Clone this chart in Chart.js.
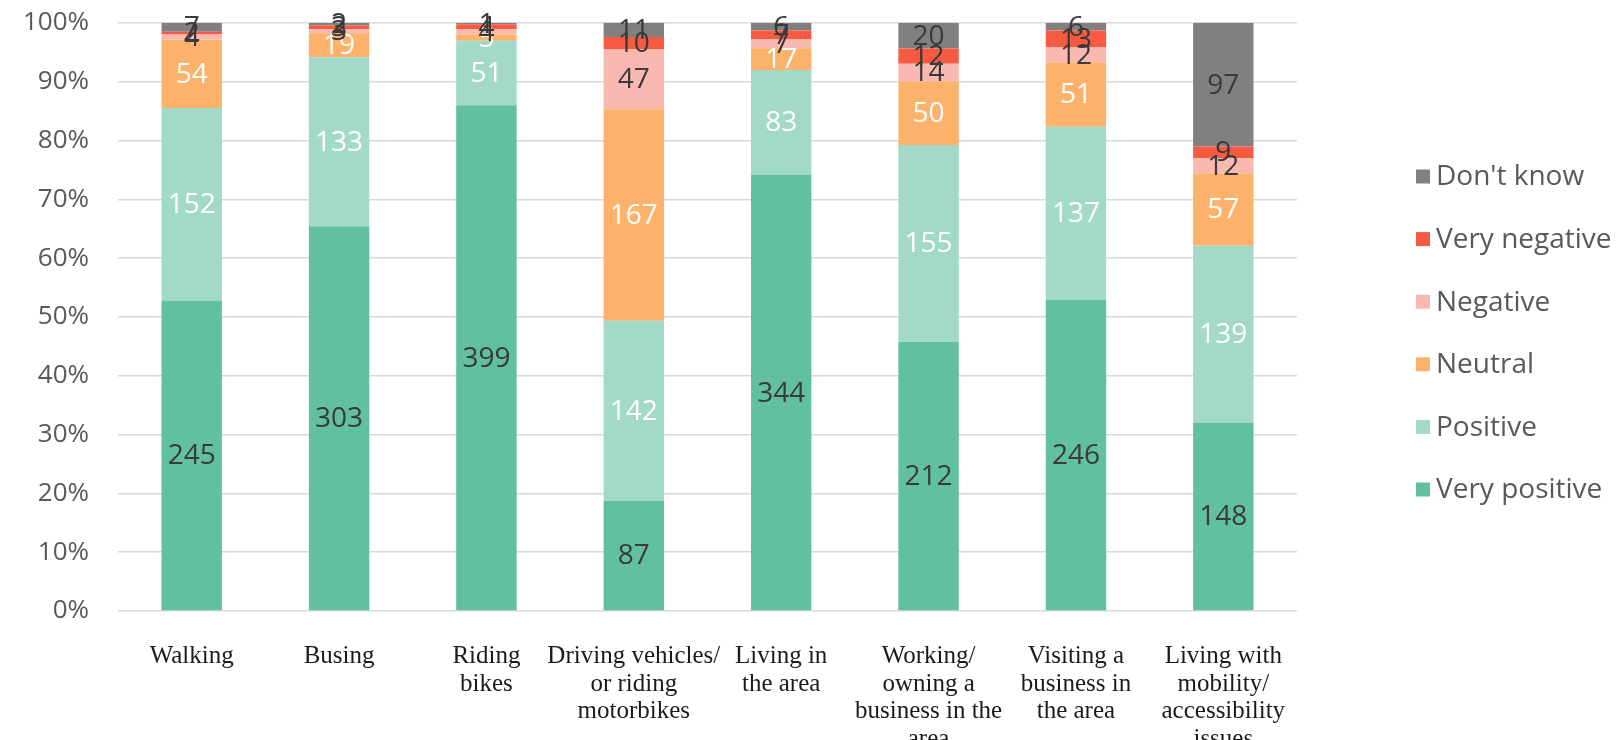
<!DOCTYPE html>
<html>
<head>
<meta charset="utf-8">
<script src="https://cdn.jsdelivr.net/npm/chart.js@4.4.0/dist/chart.umd.min.js"></script>
<style>
  html, body { margin: 0; padding: 0; background: #ffffff; }
</style>
</head>
<body>
<canvas id="attitudes" width="1621" height="740"></canvas>
<script>
// survey responses per group (counts); bars are stacked as share of each group's total
const categories = [
  ['Walking'],
  ['Busing'],
  ['Riding', 'bikes'],
  ['Driving vehicles/', 'or riding', 'motorbikes'],
  ['Living in', 'the area'],
  ['Working/', 'owning a', 'business in the', 'area'],
  ['Visiting a', 'business in', 'the area'],
  ['Living with', 'mobility/', 'accessibility', 'issues']
];

const veryPositive = [245, 303, 399, 87, 344, 212, 246, 148];
const positive     = [152, 133, 51, 142, 83, 155, 137, 139];
const neutral      = [54, 19, 5, 167, 17, 50, 51, 57];
const negative     = [4, 3, 4, 47, 7, 14, 12, 12];
const veryNegative = [2, 3, 4, 10, 7, 12, 13, 9];
const dontKnow     = [7, 2, 1, 11, 6, 20, 6, 97];

const seriesNames = ['Very positive', 'Positive', 'Neutral', 'Negative', 'Very negative', "Don't know"];
const yTickStep = 10;

const series = [veryPositive, positive, neutral, negative, veryNegative, dontKnow];
const colors = ['#62c0a2', '#a3d9c8', '#fdb26c', '#fab9b0', '#f65a40', '#808080'];
const labelColors = ['#3a3a3a', '#ffffff', '#ffffff', '#3a3a3a', '#3a3a3a', '#3a3a3a'];

const totals = categories.map((_, j) => series.reduce((s, arr) => s + arr[j], 0));

const datasets = series.map((counts, i) => ({
  label: seriesNames[i],
  data: counts.map((v, j) => v / totals[j] * 100),
  counts: counts,
  backgroundColor: colors[i],
  labelColor: labelColors[i],
  borderWidth: 0,
  barPercentage: 0.41,
  categoryPercentage: 1
}));

// count written in the middle of every segment
const segmentLabels = {
  id: 'segmentLabels',
  afterDatasetsDraw(chart) {
    const ctx = chart.ctx;
    ctx.save();
    ctx.font = '28px "Open Sans"';
    ctx.textAlign = 'center';
    ctx.textBaseline = 'middle';
    chart.data.datasets.forEach((ds, i) => {
      chart.getDatasetMeta(i).data.forEach((bar, j) => {
        const p = bar.getCenterPoint();
        ctx.fillStyle = ds.labelColor;
        ctx.fillText(ds.counts[j], p.x, p.y + 1);
      });
    });
    ctx.restore();
  }
};

// legend on the right, top item is the last series
const sideLegend = {
  id: 'sideLegend',
  afterDraw(chart) {
    const ctx = chart.ctx;
    const area = chart.chartArea;
    const x = area.right + 119;
    const mid = (area.top + area.bottom) / 2 + 16;
    const gap = 62.6;
    const items = chart.data.datasets.slice().reverse();
    ctx.save();
    ctx.font = '28px "Open Sans"';
    ctx.textBaseline = 'middle';
    ctx.textAlign = 'left';
    items.forEach((ds, k) => {
      const y = mid + (k - (items.length - 1) / 2) * gap;
      ctx.fillStyle = ds.backgroundColor;
      ctx.fillRect(x, y - 7, 14, 14);
      ctx.fillStyle = '#595959';
      ctx.fillText(ds.label, x + 20, y + 1);
    });
    ctx.restore();
  }
};

new Chart(document.getElementById('attitudes'), {
  type: 'bar',
  data: {
    labels: categories,
    datasets: datasets
  },
  options: {
    responsive: false,
    animation: false,
    layout: {
      padding: { top: 23, right: 324, left: 0, bottom: 0 }
    },
    plugins: {
      legend: { display: false },
      tooltip: { enabled: false }
    },
    scales: {
      x: {
        stacked: true,
        border: { display: false },
        grid: { display: false },
        ticks: {
          color: '#1a1a1a',
          padding: 24,
          maxRotation: 0,
          autoSkip: false,
          font: { family: 'Liberation Serif', size: 25, lineHeight: 1.1 }
        },
        afterFit(scale) {
          scale.height = 129;
          scale.paddingLeft = 0;
          scale.paddingRight = 0;
        }
      },
      y: {
        stacked: true,
        min: 0,
        max: 100,
        border: { display: false },
        grid: { color: '#d9d9d9', lineWidth: 1.5, drawTicks: false },
        ticks: {
          stepSize: yTickStep,
          padding: 29,
          color: '#595959',
          font: { family: 'Open Sans', size: 26 },
          callback: v => v + '%'
        },
        afterFit(scale) {
          scale.width = 118;
          scale.paddingTop = 0;
          scale.paddingBottom = 0;
        }
      }
    }
  },
  plugins: [segmentLabels, sideLegend]
});
</script>
</body>
</html>
